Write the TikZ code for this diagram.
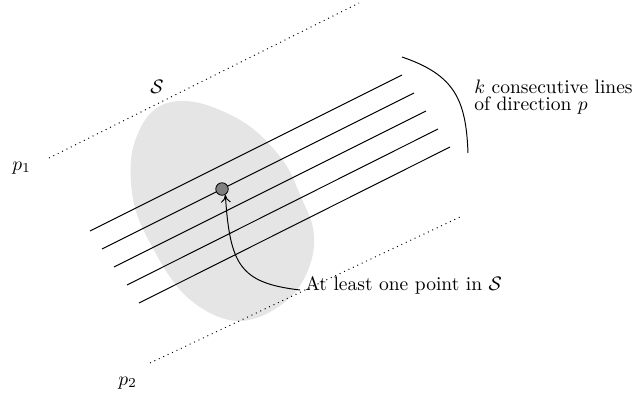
\documentclass[tikz,border=0pt]{standalone}
\usetikzlibrary{arrows.meta}
\begin{document}
\begin{tikzpicture}[x=0.5128pt,y=-0.5128pt,
  lbl/.style={inner sep=0pt,anchor=base west},
  ray/.style={line width=0.5pt},
  guide/.style={dotted,line width=0.5pt},
  blob/.style={fill=black!10,draw=none}]
\path[use as bounding box] (0,0) rectangle (635,394);
% shaded set S
\path[blob] plot[smooth cycle,tension=0.6] coordinates {(131,160) (135,208) (155,252) (180,290) (210,313) (240,321) (270,312) (297,290) (312,258) (313,228) (301,197) (284,162) (252,128) (215,108) (185,101) (160,106) (142,125)};
% dotted guide lines
\coordinate (t1) at (49,158); \coordinate (t2) at (359,3);
\coordinate (u1) at (150,363); \coordinate (u2) at (460,217);
\draw[guide] (t1) -- (t2);
\draw[guide] (u1) -- (u2);
% parallel lines
\foreach \i/\xa/\ya/\xb/\yb in {1/90/231/402/75,2/102/249/414/93,3/114/267/426/111,4/127/285/438/129,5/139/303/450/147}{
  \coordinate (a\i) at (\xa,\ya);
  \coordinate (b\i) at (\xb,\yb);
  \draw[ray] (a\i) -- (b\i);
}
% point
\node[circle,draw=black,fill=black!50,inner sep=0pt,minimum size=12.5*0.5128pt,line width=0.4pt] (pt) at (222,189) {};
% labels
\node[anchor=center,inner sep=0pt] (S) at (157,87) {$\mathcal{S}$};
\node[lbl] (p1) at (12,170) {$p_1$};
\node[lbl] (p2) at (118,385) {$p_2$};
\node[lbl] (k1) at (474,93) {$k$ consecutive lines};
\node[lbl] (k2) at (474,110) {of direction $p$};
\node[lbl] (al) at (305,290.5) {At least one point in $\mathcal{S}$};
% brace-like curve
\coordinate (c1) at (402,57); \coordinate (c2) at (468,153);
\draw[ray] (c1) .. controls (455,75) and (466,100) .. (c2);
% arrow
\coordinate (as) at (300,290);
\draw[ray,-{To[length=4pt,width=5pt]}] (as) .. controls (240,283) and (230,265) .. (pt.300);
\end{tikzpicture}
\end{document}
